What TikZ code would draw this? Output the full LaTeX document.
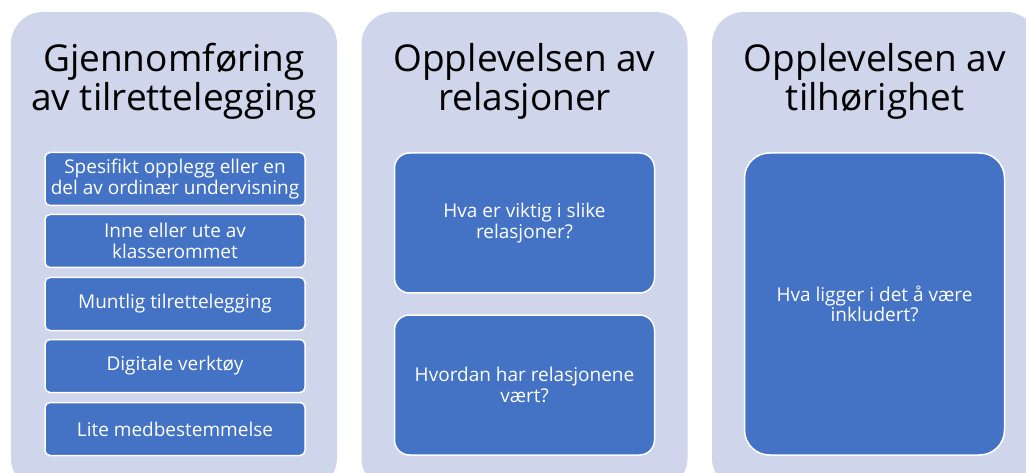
\documentclass[tikz,border=0pt]{standalone}
\usepackage{fontspec}
\setmainfont{Open Sans}
\definecolor{panelfill}{HTML}{CFD5EA}
\definecolor{boxfill}{HTML}{4472C4}
\begin{document}
\begin{tikzpicture}[x=1pt,y=-1pt,
  panel/.style={fill=panelfill, rounded corners=32pt, minimum width=326pt, minimum height=478pt, inner sep=0pt},
  title/.style={font=\fontsize{37}{39}\selectfont, align=center, text=black, anchor=base, inner sep=0pt},
  item/.style={draw=white, line width=1.5pt, fill=boxfill, text=white, align=center,
    font=\fontsize{19}{20.5}\selectfont, minimum width=260pt, inner sep=0pt},
  small/.style={item, minimum height=53pt, rounded corners=5pt},
  mid/.style={item, minimum height=140pt, rounded corners=15pt},
  tall/.style={item, minimum height=302pt, rounded corners=25pt},
]
\useasboundingbox (0,0) rectangle (1026,473);
\begin{scope}
\clip (0,0) rectangle (1026,473);
\node[panel] (p1) at (174,251) {};
\node[panel] (p2) at (524.5,251) {};
\node[panel] (p3) at (875,251) {};
\end{scope}

\node[title] (t1) at (174,111) {Gjennomføring\\av tilrettelegging};
\node[title] (t2) at (524.5,111) {Opplevelsen av\\relasjoner};
\node[title] (t3) at (875,111) {Opplevelsen av\\tilhørighet};

\node[small] (a1) at (175,179) {Spesifikt opplegg eller en\\del av ordinær undervisning};
\node[small] (a2) at (175,241) {Inne eller ute av\\klasserommet};
\node[small] (a3) at (175,304) {Muntlig tilrettelegging};
\node[small] (a4) at (175,366) {Digitale verktøy};
\node[small] (a5) at (175,429) {Lite medbestemmelse};

\node[mid] (b1) at (524.5,223) {Hva er viktig i slike\\relasjoner?};
\node[mid] (b2) at (524.5,385) {Hvordan har relasjonene\\vært?};

\node[tall] (c1) at (874.5,304) {Hva ligger i det å være\\inkludert?};
\end{tikzpicture}
\end{document}
